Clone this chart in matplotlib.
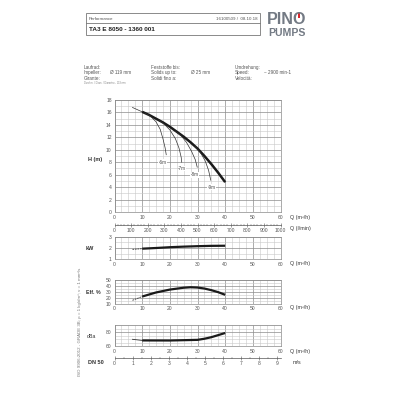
import numpy as np
import matplotlib.pyplot as plt
from matplotlib.patches import Rectangle

plt.rcParams['font.family'] = ['Liberation Sans', 'DejaVu Sans']

# pump curve H(Q)
q_h = [6.5, 8, 10, 12.5, 15, 17.5, 20, 22.5, 25, 27.5, 30, 32.5, 35, 37.5, 40]
h_m = [16.8, 16.5, 16.1, 15.6, 15.0, 14.4, 13.7, 12.9, 12.1, 11.2, 10.2, 9.0, 7.7, 6.3, 4.8]

# suction lift curves
lift_labels = ['-6m', '-7m', '-8m', '-9m']
lift_q = [[11, 13, 15, 16.5, 17.5, 18.3, 18.7],
          [16, 18, 20, 22, 23.3, 24.1, 24.3],
          [22, 24, 26, 27.8, 29.2, 29.9],
          [29, 31, 32.8, 34.0, 34.8]]
lift_h = [[15.9, 15.4, 14.5, 13.3, 11.8, 10.3, 9.2],
          [14.8, 14.1, 13.2, 11.8, 10.3, 8.8, 8.0],
          [13.0, 12.3, 11.2, 9.8, 8.4, 7.2],
          [10.6, 9.6, 8.2, 6.7, 5.1]]
lift_label_pos = [(17.3, 8.0), (24.4, 7.0), (29.0, 6.0), (35.0, 4.0)]

# power, efficiency, noise
q_p = [6.5, 10, 15, 20, 25, 30, 35, 40]
kw = [1.88, 1.94, 2.0, 2.07, 2.12, 2.16, 2.19, 2.2]
q_e = [6.5, 10, 15, 20, 25, 27.5, 30, 32.5, 35, 37.5, 40]
eff = [15.5, 22, 29, 34, 37.2, 38, 37.5, 35.8, 33, 29.5, 25]
q_d = [6.5, 10, 20, 30, 32.5, 35, 37.5, 40]
dba = [70, 68.4, 68.3, 69.2, 70.8, 73, 76, 79]

fig = plt.figure(figsize=(4, 4), dpi=100)
fig.patch.set_facecolor('white')

def box(x0, y0, x1, y1):
    return fig.add_axes([x0 / 400, 1 - y1 / 400, (x1 - x0) / 400, (y1 - y0) / 400])

def ftext(x, y, s, **kw_):
    fig.text(x / 400, 1 - y / 400, s, **kw_)

tick_col = '#555555'
fs = 3.6

def style(ax, xmaj, xmin, ymaj, ymin):
    ax.set_xticks(xmaj)
    ax.set_xticks(xmin, minor=True)
    ax.set_yticks(ymaj)
    ax.set_yticks(ymin, minor=True)
    ax.grid(which='major', color='#8c8c8c', lw=0.5)
    ax.grid(which='minor', color='#c8c8c8', lw=0.4)
    ax.tick_params(which='both', length=0, labelsize=fs, colors=tick_col, pad=2)
    for s in ax.spines.values():
        s.set_color('#888888')
        s.set_linewidth(0.5)
    ax.set_axisbelow(True)

def scale_axis(ax, lim, maj, mnr):
    ax.set_xlim(*lim)
    ax.set_yticks([])
    for s in ['left', 'right', 'top']:
        ax.spines[s].set_visible(False)
    ax.spines['bottom'].set_color('#555555')
    ax.spines['bottom'].set_linewidth(0.5)
    ax.set_xticks(maj)
    ax.set_xticks(mnr, minor=True)
    ax.tick_params(which='major', direction='inout', length=2.5, width=0.4, colors='#555555', labelsize=fs, pad=1)
    ax.tick_params(which='minor', direction='inout', length=1.5, width=0.3, colors='#555555')
    ax.patch.set_alpha(0)

# --- H(Q) chart ---
ax = box(114.5, 100, 280.5, 212)
ax.set_xlim(0, 60)
ax.set_ylim(0, 18)
style(ax, np.arange(0, 61, 10), np.arange(0, 61, 2.5), np.arange(0, 19, 2), np.arange(0, 19, 1))
ax.plot(q_h, h_m, color='#333333', lw=0.5)
ax.plot(q_h[2:], h_m[2:], color='#1a1a1a', lw=1.8, solid_capstyle='butt')
for qq, hh, lab, pos in zip(lift_q, lift_h, lift_labels, lift_label_pos):
    ax.plot(qq, hh, color='#333333', lw=0.5)
    ax.text(pos[0], pos[1], lab, fontsize=3.3, color='#444444', ha='center', va='center',
            bbox=dict(facecolor='white', edgecolor='none', pad=0.3))
ftext(290, 217, 'Q (m³/h)', fontsize=3.8, color='#333333', va='center')
ftext(88, 160, 'H (m)', fontsize=4.0, color='#333333', va='center', weight='bold')

# l/min scale
axl = box(114.5, 223.5, 280.5, 224.5)
scale_axis(axl, (0, 1000), np.arange(0, 1001, 100), np.arange(0, 1001, 20))
ftext(290, 228.5, 'Q (l/min)', fontsize=3.8, color='#333333', va='center')

# --- kW chart ---
ax2 = box(114.5, 236.7, 280.5, 259.3)
ax2.set_xlim(0, 60)
ax2.set_ylim(1, 3)
style(ax2, np.arange(0, 61, 10), np.arange(0, 61, 2.5), [1, 2, 3], np.arange(1, 3.01, 0.5))
ax2.plot(q_p[:2], kw[:2], color='#333333', lw=0.6, ls=(0, (2, 1)))
ax2.plot(q_p[1:], kw[1:], color='#1a1a1a', lw=1.6, solid_capstyle='butt')
ftext(290, 264, 'Q (m³/h)', fontsize=3.8, color='#333333', va='center')
ftext(86, 248, 'kW', fontsize=4.0, color='#333333', va='center', weight='bold')

# --- efficiency chart ---
ax3 = box(114.5, 280.3, 280.5, 303.5)
ax3.set_xlim(0, 60)
ax3.set_ylim(10, 50)
style(ax3, np.arange(0, 61, 10), np.arange(0, 61, 2.5), np.arange(10, 51, 10), np.arange(10, 51, 5))
ax3.plot(q_e[:2], eff[:2], color='#333333', lw=0.6, ls=(0, (2, 1)))
ax3.plot(q_e[1:], eff[1:], color='#1a1a1a', lw=1.6, solid_capstyle='butt')
ftext(290, 308, 'Q (m³/h)', fontsize=3.8, color='#333333', va='center')
ftext(86, 292, 'Eff. %', fontsize=3.8, color='#333333', va='center', weight='bold')

# --- noise chart ---
ax4 = box(114.5, 325.3, 280.5, 346.3)
ax4.set_xlim(0, 60)
ax4.set_ylim(60, 90)
style(ax4, np.arange(0, 61, 10), np.arange(0, 61, 2.5), [60, 80], np.arange(60, 91, 5))
ax4.plot(q_d[:2], dba[:2], color='#333333', lw=0.6)
ax4.plot(q_d[1:], dba[1:], color='#1a1a1a', lw=1.6, solid_capstyle='butt')
ftext(290, 351, 'Q (m³/h)', fontsize=3.8, color='#333333', va='center')
ftext(87, 336, 'dBa', fontsize=3.8, color='#333333', va='center')

# velocity scale DN 50
axv = box(114.5, 357, 280.5, 358)
scale_axis(axv, (0, 9.17), np.arange(0, 10, 1), np.arange(0, 9.1, 0.5))
ftext(88, 362, 'DN 50', fontsize=4.0, color='#333333', va='center', weight='bold')
ftext(293, 362.5, 'm/s', fontsize=3.8, color='#333333', va='center')

# vertical norm note
ftext(80, 322, 'ISO 9906:2012 - GRADE 3B; ρ = 1 kg/dm³; ν = 1 mm²/s', fontsize=3.2,
      color='#777777', rotation=90, ha='center', va='center')

# --- header box ---
fig.patches.append(Rectangle((86 / 400, 1 - 35.3 / 400), 174 / 400, 22 / 400,
                             transform=fig.transFigure, fill=False, edgecolor='#777777', lw=0.6))
fig.add_artist(plt.Line2D([86 / 400, 260 / 400], [1 - 23.3 / 400, 1 - 23.3 / 400],
                          transform=fig.transFigure, color='#777777', lw=0.6))
ftext(89, 19.5, 'Performance', fontsize=3.2, color='#555555', va='center')
ftext(258, 19.5, '16100509 /  08.10.18', fontsize=3.2, color='#555555', va='center', ha='right')
ftext(89, 29.5, 'TA3 E 8050 - 1360 001', fontsize=4.6, color='#222222', va='center', weight='bold')

# logo
ftext(267, 24.5, 'PINO', fontsize=11.6, color='#737a84', va='baseline', weight='bold')
ftext(268, 36, 'PUMPS', fontsize=7.6, color='#737a84', va='baseline', weight='bold')
fig.patches.append(Rectangle((297 / 400, 1 - 15.5 / 400), 4.5 / 400, 4 / 400,
                             transform=fig.transFigure, facecolor='white', edgecolor='none'))
fig.patches.append(Rectangle((298.4 / 400, 1 - 18 / 400), 1.8 / 400, 6.5 / 400,
                             transform=fig.transFigure, facecolor='#d9262b', edgecolor='none'))

# spec lines
spec_col = '#555555'
ftext(84, 67.5, 'Laufrad:', fontsize=3.3, color=spec_col, va='center')
ftext(84, 72.5, 'Impeller:', fontsize=3.3, color=spec_col, va='center')
ftext(84, 78, 'Girante:', fontsize=3.3, color=spec_col, va='center')
ftext(84, 82.5, 'Durchm. / Diam. / Diametro - 119 mm', fontsize=1.8, color='#888888', va='center')
ftext(110, 72.5, 'Ø 119 mm', fontsize=3.3, color=spec_col, va='center')
ftext(151, 67.5, 'Feststoffe bis:', fontsize=3.3, color=spec_col, va='center')
ftext(151, 72.5, 'Solids up to:', fontsize=3.3, color=spec_col, va='center')
ftext(151, 78, 'Solidi fino a:', fontsize=3.3, color=spec_col, va='center')
ftext(191, 72.5, 'Ø 25 mm', fontsize=3.3, color=spec_col, va='center')
ftext(235, 67.5, 'Umdrehung:', fontsize=3.3, color=spec_col, va='center')
ftext(235, 72.5, 'Speed:', fontsize=3.3, color=spec_col, va='center')
ftext(235, 78, 'Velocità:', fontsize=3.3, color=spec_col, va='center')
ftext(264, 72.5, '~ 2900 min-1', fontsize=3.3, color=spec_col, va='center')

fig.savefig('out.png', dpi=100, facecolor='white')
